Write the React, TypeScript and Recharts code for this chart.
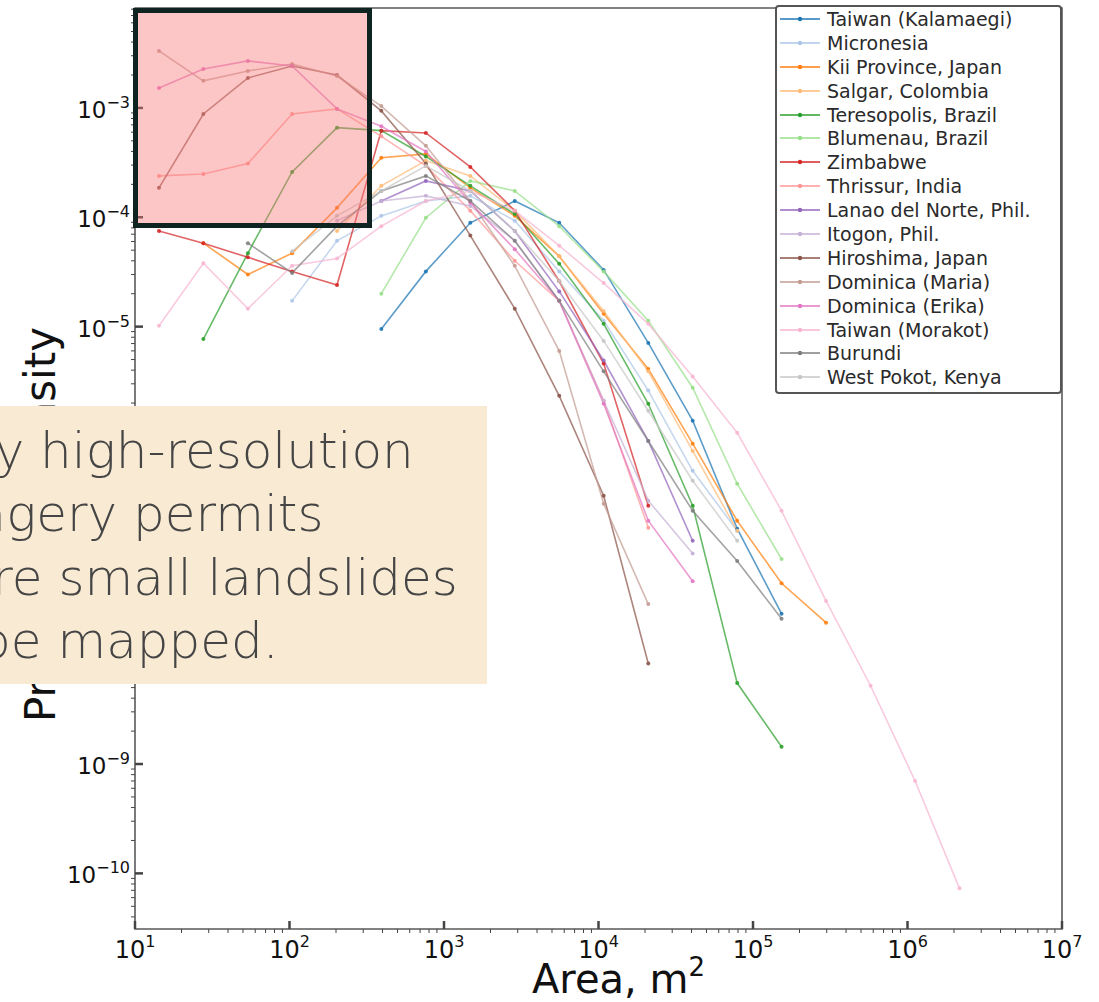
import React from "react";
import { LineChart, Line, XAxis, YAxis, Legend, ReferenceArea } from "recharts";

// landslide area bins (m^2), roughly doubling
const BINS = [14.3, 27.7, 53.8, 104, 203, 393, 763, 1480, 2870, 5570, 10800, 21000, 40700, 79000, 153000, 297000, 577000, 1120000, 2170000];

// probability density per inventory; first value sits in bin `start`
const KALAMAEGI = [9.5e-6, 3.2e-5, 8.9e-5, 1.41e-4, 8.9e-5, 3.3e-5, 7.1e-6, 1.38e-6, 1.42e-7, 2.37e-8];
const MICRONESIA = [1.72e-5, 6.1e-5, 1.03e-4, 1.41e-4, 1.57e-4, 9.3e-5, 3.2e-5, 1.13e-5, 2.6e-6, 4.8e-7, 1.36e-7];
const KII = [5.8e-5, 3.0e-5, 4.7e-5, 1.22e-4, 3.5e-4, 3.8e-4, 1.86e-4, 1.03e-4, 4.4e-5, 1.31e-5, 4.1e-6, 8.5e-7, 1.68e-7, 4.5e-8, 1.96e-8];
const SALGAR = [7.5e-5, 1.94e-4, 3.3e-4, 2.39e-4, 1.15e-4, 4.4e-5, 1.39e-5, 3.9e-6, 7.3e-7, 1.36e-7];
const TERESOPOLIS = [7.7e-6, 4.7e-5, 2.6e-4, 6.6e-4, 6.2e-4, 3.6e-4, 1.94e-4, 1.07e-4, 3.75e-5, 1.06e-5, 1.97e-6, 2.3e-7, 5.5e-9, 1.44e-9];
const BLUMENAU = [2.0e-5, 9.9e-5, 2.15e-4, 1.74e-4, 8.3e-5, 3.2e-5, 1.13e-5, 2.76e-6, 3.66e-7, 7.5e-8];
const ZIMBABWE = [7.5e-5, 5.8e-5, 4.3e-5, 3.2e-5, 2.4e-5, 6.2e-4, 5.9e-4, 2.89e-4, 1.15e-4, 2.6e-5, 4.6e-6, 2.3e-7];
const THRISSUR = [2.39e-4, 2.49e-4, 3.1e-4, 8.8e-4, 9.8e-4, 5.5e-4, 2.95e-4, 1.15e-4, 4.0e-5, 1.72e-5, 2.1e-6, 1.45e-7];
const LANAO = [1.41e-4, 2.15e-4, 1.74e-4, 7.5e-5, 2.1e-5, 4.9e-6, 9.0e-7, 1.1e-7];
const ITOGON = [9.3e-5, 1.41e-4, 1.57e-4, 1.27e-4, 6.1e-5, 1.72e-5, 2.1e-6, 2.56e-7, 8.4e-8];
const HIROSHIMA = [1.86e-4, 8.8e-4, 1.88e-3, 2.42e-3, 2.0e-3, 9.4e-4, 3.1e-4, 6.8e-5, 1.46e-5, 2.33e-6, 2.84e-7, 8.3e-9];
const MARIA = [3.32e-3, 1.77e-3, 2.18e-3, 2.52e-3, 1.96e-3, 1.04e-3, 4.5e-4, 1.41e-4, 3.6e-5, 6.0e-6, 2.4e-7, 2.9e-8];
const ERIKA = [1.52e-3, 2.27e-3, 2.69e-3, 2.42e-3, 9.8e-4, 6.8e-4, 4.0e-4, 1.36e-4, 5.1e-5, 1.72e-5, 1.97e-6, 1.68e-7, 4.7e-8];
const MORAKOT = [1.02e-5, 3.8e-5, 1.46e-5, 3.6e-5, 4.2e-5, 8.3e-5, 1.41e-4, 1.74e-4, 1.15e-4, 5.5e-5, 2.5e-5, 1.06e-5, 3.5e-6, 1.07e-6, 2.07e-7, 3.1e-8, 5.2e-9, 7.0e-10, 7.3e-11];
const BURUNDI = [5.8e-5, 3.1e-5, 8.3e-5, 1.74e-4, 2.39e-4, 1.41e-4, 6.1e-5, 1.72e-5, 3.9e-6, 9.0e-7, 2.07e-7, 7.2e-8, 2.13e-8];
const WEST_POKOT = [4.9e-5, 1.03e-4, 1.74e-4, 2.95e-4, 1.74e-4, 7.5e-5, 2.6e-5, 7.4e-6, 1.7e-6, 3.9e-7, 1.1e-7];

const SERIES = [
  { name: "Taiwan (Kalamaegi)", color: "#1f77b4", start: 5, values: KALAMAEGI },
  { name: "Micronesia", color: "#aec7e8", start: 3, values: MICRONESIA },
  { name: "Kii Province, Japan", color: "#ff7f0e", start: 1, values: KII },
  { name: "Salgar, Colombia", color: "#ffbb78", start: 4, values: SALGAR },
  { name: "Teresopolis, Brazil", color: "#2ca02c", start: 1, values: TERESOPOLIS },
  { name: "Blumenau, Brazil", color: "#98df8a", start: 5, values: BLUMENAU },
  { name: "Zimbabwe", color: "#d62728", start: 0, values: ZIMBABWE },
  { name: "Thrissur, India", color: "#ff9896", start: 0, values: THRISSUR },
  { name: "Lanao del Norte, Phil.", color: "#9467bd", start: 5, values: LANAO },
  { name: "Itogon, Phil.", color: "#c5b0d5", start: 4, values: ITOGON },
  { name: "Hiroshima, Japan", color: "#8c564b", start: 0, values: HIROSHIMA },
  { name: "Dominica (Maria)", color: "#c49c94", start: 0, values: MARIA },
  { name: "Dominica (Erika)", color: "#e377c2", start: 0, values: ERIKA },
  { name: "Taiwan (Morakot)", color: "#f7b6d2", start: 0, values: MORAKOT },
  { name: "Burundi", color: "#7f7f7f", start: 2, values: BURUNDI },
  { name: "West Pokot, Kenya", color: "#c7c7c7", start: 3, values: WEST_POKOT },
];

const X_MAJOR = [10, 100, 1000, 10000, 100000, 1000000, 10000000];
const Y_MAJOR = [1e-11, 1e-10, 1e-9, 1e-8, 1e-7, 1e-6, 1e-5, 1e-4, 1e-3, 1e-2];
const X_DOMAIN = [10, 1e7];
const Y_DOMAIN = [3.1e-11, 8.2e-3];

const NOTE_LINES = ["Very high-resolution", "imagery permits", "more small landslides", "to be mapped."];

const withMinor = (major: number[], lo: number, hi: number) =>
  major
    .flatMap((m) => [1, 2, 3, 4, 5, 6, 7, 8, 9].map((k) => m * k))
    .filter((v) => v >= lo * 0.9999 && v <= hi * 1.0001);

const X_TICKS = withMinor(X_MAJOR, X_DOMAIN[0], X_DOMAIN[1]);
const Y_TICKS = withMinor(Y_MAJOR, Y_DOMAIN[0], Y_DOMAIN[1]);

const FONT = "DejaVu Sans, sans-serif";

const isMajor = (v: number) => {
  const e = Math.log10(v);
  return Math.abs(e - Math.round(e)) < 1e-6;
};

function XTick(props: any) {
  const { x, y, payload } = props;
  const major = isMajor(payload.value);
  return (
    <g>
      <line x1={x} x2={x} y1={y} y2={major ? y - 8 : y + 4} stroke="#444" strokeWidth={major ? 2.5 : 1} />
      {major && (
        <text x={x} y={y + 29} textAnchor="middle" fontSize={24} fill="#111" fontFamily={FONT}>
          10
          <tspan dy={-11} fontSize={16}>
            {Math.round(Math.log10(payload.value))}
          </tspan>
        </text>
      )}
    </g>
  );
}

function YTick(props: any) {
  const { x, y, payload } = props;
  const major = isMajor(payload.value);
  const e = Math.round(Math.log10(payload.value));
  return (
    <g>
      <line x1={major ? x : x - 4} x2={major ? x + 8 : x} y1={y} y2={y} stroke="#444" strokeWidth={major ? 2.5 : 1} />
      {major && (
        <text x={x - 5} y={y + 10} textAnchor="end" fontSize={23} fill="#111" fontFamily={FONT}>
          10
          <tspan dy={-10} fontSize={16}>
            {"\u2212" + Math.abs(e)}
          </tspan>
        </text>
      )}
    </g>
  );
}

function XTitle(props: any) {
  const { viewBox } = props;
  return (
    <text x={viewBox.x + viewBox.width / 2 + 20} y={viewBox.y + 64} textAnchor="middle" fontSize={40} fill="#111" fontFamily={FONT}>
      Area, m
      <tspan dy={-17} fontSize={26}>
        2
      </tspan>
    </text>
  );
}

function YTitle(props: any) {
  const { viewBox } = props;
  const cx = 55;
  const cy = viewBox.y + viewBox.height / 2 + 56;
  return (
    <text x={cx} y={cy} transform={`rotate(-90 ${cx} ${cy})`} textAnchor="middle" fontSize={42} fill="#111" fontFamily={FONT}>
      Probability Density
    </text>
  );
}

const ORDER = SERIES.map((s) => s.name);

function LegendBox(props: any) {
  const { payload = [] } = props;
  const items = [...payload].sort((a: any, b: any) => ORDER.indexOf(a.value) - ORDER.indexOf(b.value));
  return (
    <div
      style={{
        border: "2px solid #555",
        borderRadius: 4,
        background: "#fff",
        width: 287,
        boxSizing: "border-box",
        paddingBottom: 3,
      }}
    >
      {items.map((p: any) => (
        <div key={p.value} style={{ display: "flex", alignItems: "center", height: 23.9 }}>
          <svg width={50} height={12} style={{ flex: "none" }}>
            <line x1={3} x2={43} y1={6} y2={6} stroke={p.color} strokeWidth={1.8} strokeOpacity={0.75} />
            <circle cx={23} cy={6} r={2.2} fill={p.color} />
          </svg>
          <span style={{ fontFamily: FONT, fontSize: 19, color: "#2a2a2a", whiteSpace: "nowrap" }}>{p.value}</span>
        </div>
      ))}
    </div>
  );
}

export default function App() {
  return (
    <div style={{ position: "absolute", left: 0, top: 0, width: 1099, height: 1002, background: "#fff" }}>
      <LineChart width={1099} height={1002} margin={{ top: 8, right: 37, bottom: 13, left: 65 }}>
        <XAxis
          type="number"
          dataKey="x"
          scale="log"
          domain={X_DOMAIN}
          allowDataOverflow
          ticks={X_TICKS}
          interval={0}
          tick={<XTick />}
          tickSize={0}
          tickMargin={0}
          tickLine={false}
          axisLine={false}
          height={60}
          label={<XTitle />}
        />
        <YAxis
          type="number"
          scale="log"
          domain={Y_DOMAIN}
          allowDataOverflow
          ticks={Y_TICKS}
          interval={0}
          tick={<YTick />}
          tickSize={0}
          tickMargin={0}
          tickLine={false}
          axisLine={false}
          width={70}
          label={<YTitle />}
        />
        {SERIES.map((s) => (
          <Line
            key={s.name}
            name={s.name}
            data={s.values.map((y, i) => ({ x: BINS[s.start + i], y }))}
            dataKey="y"
            stroke={s.color}
            strokeWidth={1.6}
            strokeOpacity={0.72}
            dot={{ r: 2, fill: s.color, stroke: s.color, strokeWidth: 0, fillOpacity: 0.9 }}
            activeDot={false}
            isAnimationActive={false}
          />
        ))}
        <ReferenceArea
          x1={X_DOMAIN[0]}
          x2={X_DOMAIN[1]}
          y1={Y_DOMAIN[0]}
          y2={Y_DOMAIN[1]}
          fill="none"
          stroke="#5a5a5a"
          strokeWidth={1.6}
          ifOverflow="visible"
        />
        <Legend
          layout="vertical"
          align="center"
          verticalAlign="middle"
          content={<LegendBox />}
          wrapperStyle={{ left: 775, top: 5, width: 287 }}
        />
      </LineChart>
      <svg width={1099} height={1002} style={{ position: "absolute", left: 0, top: 0, pointerEvents: "none" }}>
        <rect x={135.5} y={10.5} width={234} height={215} fill="rgba(248,120,120,0.42)" stroke="#0f2420" strokeWidth={5} />
        <rect x={0} y={406} width={487} height={278} fill="#f9ead3" />
        {NOTE_LINES.map((t, i) => (
          <text key={t} x={-87} y={468 + i * 63.3} fontSize={50} fontWeight={300} fill="#454545" fontFamily={FONT}>
            {t}
          </text>
        ))}
      </svg>
    </div>
  );
}
